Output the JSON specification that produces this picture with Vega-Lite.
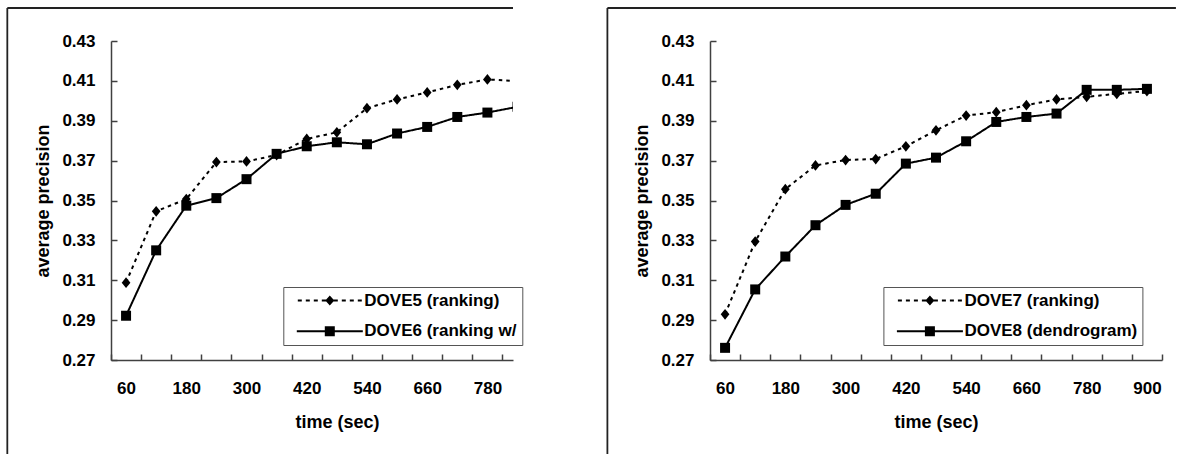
{
  "$schema": "https://vega.github.io/schema/vega-lite/v6.json",
  "padding": {"left": 6, "top": 7, "right": 0, "bottom": 0},
  "background": "white",
  "spacing": 83,
  "align": "each",
  "config": {
    "view": {"stroke": null},
    "font": "Liberation Sans",
    "axis": {
      "domainColor": "#404040", "domainWidth": 1.5,
      "tickColor": "#404040", "tickWidth": 1.5, "tickSize": -6, "tickCount": 40,
      "grid": false,
      "labelFont": "Liberation Sans", "labelFontSize": 17, "labelFontWeight": "bold", "labelColor": "black",
      "titleFont": "Liberation Sans", "titleFontSize": 18, "titleFontWeight": "bold", "titleColor": "black",
      "labelOverlap": false, "labelFlush": false, "labelBound": false
    },
    "axisX": {"labelPadding": 26, "labelOffset": 15.06, "titleX": 226, "titleY": 62, "titleBaseline": "middle", "titleAlign": "center"},
    "axisY": {"labelPadding": 22, "titleX": -68, "titleY": 159.5, "titleAngle": -90, "titleBaseline": "middle", "titleAlign": "center"},
    "legend": {
      "title": null, "orient": "none", "direction": "vertical",
      "strokeColor": "#555555", "fillColor": "white", "padding": 5, "rowPadding": 12.7,
      "symbolSize": 100, "symbolOffset": 33, "labelOffset": 26, "symbolOpacity": 1,
      "labelFont": "Liberation Sans", "labelFontSize": 17, "labelFontWeight": "bold", "labelColor": "black",
      "symbolStrokeWidth": 0, "symbolFillColor": "black"
    }
  },
  "resolve": {
    "scale": {"x": "independent", "y": "independent", "shape": "independent", "strokeDash": "independent"},
    "legend": {"shape": "independent", "strokeDash": "independent"}
  },
  "hconcat": [
    {
      "width": 402,
      "height": 319,
      "layer": [
        {
          "data": {"values": [{}]},
          "mark": {"type": "rule", "stroke": "#222222", "strokeWidth": 1.8},
          "encoding": {
            "x": {"datum": -176.6, "type": "quantitative", "scale": {"domain": [30, 831], "nice": false, "zero": false}},
            "y": {"datum": 0.44655, "type": "quantitative", "scale": {"domain": [0.27, 0.43], "nice": false, "zero": false}},
            "y2": {"datum": 0.22285}
          }
        },
        {
          "data": {"values": [{}]},
          "mark": {"type": "rule", "stroke": "#222222", "strokeWidth": 1.8},
          "encoding": {
            "x": {"datum": -176.6, "type": "quantitative", "scale": {"domain": [30, 831], "nice": false, "zero": false}},
            "x2": {"datum": 831},
            "y": {"datum": 0.44655, "type": "quantitative", "scale": {"domain": [0.27, 0.43], "nice": false, "zero": false}}
          }
        },
        {
          "data": {"name": "left"},
          "mark": {"type": "line", "clip": true, "stroke": "black", "strokeWidth": 2},
          "encoding": {
            "x": {"field": "time", "type": "quantitative", "scale": {"domain": [30, 831], "nice": false, "zero": false},
              "axis": {"values": [30, 90, 150, 210, 270, 330, 390, 450, 510, 570, 630, 690, 750, 810], "tickCount": 40, "labelOverlap": false,
                "labelExpr": "(datum.value + 30) % 120 == 60 ? '' + (datum.value + 30) : ''", "title": "time (sec)"}},
            "y": {"field": "precision", "type": "quantitative", "scale": {"domain": [0.27, 0.43], "nice": false, "zero": false},
              "axis": {"values": [0.27, 0.29, 0.31, 0.33, 0.35, 0.37, 0.39, 0.41, 0.43], "tickCount": 40, "format": ".2f", "labelOverlap": false, "title": "average precision"}},
            "detail": {"field": "series", "type": "nominal"},
            "strokeDash": {"field": "series", "type": "nominal",
              "scale": {"domain": ["DOVE5 (ranking)", "DOVE6 (ranking w/"], "range": [[3.5, 4], [1, 0]]},
              "legend": {"legendX": 172.3, "legendY": 246, "labelLimit": 0}}
          }
        },
        {
          "data": {"name": "left"},
          "transform": [{"filter": "datum.series == 'DOVE5 (ranking)'"}],
          "mark": {"type": "point", "clip": true, "filled": true, "fill": "black", "opacity": 1, "strokeWidth": 0, "size": 105, "shape": "M-0.85,0L0,-1.05L0.85,0L0,1.05Z"},
          "encoding": {
            "x": {"field": "time", "type": "quantitative", "scale": {"domain": [30, 831], "nice": false, "zero": false}},
            "y": {"field": "precision", "type": "quantitative", "scale": {"domain": [0.27, 0.43], "nice": false, "zero": false}}
          }
        },
        {
          "data": {"name": "left"},
          "transform": [{"filter": "datum.series != 'DOVE5 (ranking)'"}],
          "mark": {"type": "point", "clip": true, "filled": true, "fill": "black", "opacity": 1, "strokeWidth": 0, "size": 100, "shape": "square"},
          "encoding": {
            "x": {"field": "time", "type": "quantitative", "scale": {"domain": [30, 831], "nice": false, "zero": false}},
            "y": {"field": "precision", "type": "quantitative", "scale": {"domain": [0.27, 0.43], "nice": false, "zero": false}}
          }
        },
        {
          "data": {"name": "left"},
          "transform": [{"filter": "false"}],
          "mark": {"type": "point", "filled": true, "fill": "black", "opacity": 1},
          "encoding": {
            "x": {"field": "time", "type": "quantitative", "scale": {"domain": [30, 831], "nice": false, "zero": false}},
            "y": {"field": "precision", "type": "quantitative", "scale": {"domain": [0.27, 0.43], "nice": false, "zero": false}},
            "shape": {"field": "series", "type": "nominal",
              "scale": {"domain": ["DOVE5 (ranking)", "DOVE6 (ranking w/"], "range": [
                "M-6.4,-0.2L-5.6,-0.2L-5.6,0.2L-6.4,0.2ZM-4.8,-0.2L-4,-0.2L-4,0.2L-4.8,0.2ZM-3.2,-0.2L-2.4,-0.2L-2.4,0.2L-3.2,0.2ZM-1.6,-0.2L1.6,-0.2L1.6,0.2L-1.6,0.2ZM2.4,-0.2L3.2,-0.2L3.2,0.2L2.4,0.2ZM4,-0.2L4.8,-0.2L4.8,0.2L4,0.2ZM5.6,-0.2L6.4,-0.2L6.4,0.2L5.6,0.2ZM-0.9,0L0,-1L0.9,0L0,1Z",
                "M-6.6,-0.2L6.6,-0.2L6.6,0.2L-6.6,0.2ZM-1,-1L1,-1L1,1L-1,1Z"]},
              "legend": {"legendX": 172.3, "legendY": 246, "labelLimit": 0}}
          }
        }
      ]
    },
    {
      "width": 452,
      "height": 319,
      "layer": [
        {
          "data": {"values": [{}]},
          "mark": {"type": "rule", "stroke": "#222222", "strokeWidth": 1.8},
          "encoding": {
            "x": {"datum": -174.3, "type": "quantitative", "scale": {"domain": [30, 930], "nice": false, "zero": false}},
            "y": {"datum": 0.44655, "type": "quantitative", "scale": {"domain": [0.27, 0.43], "nice": false, "zero": false}},
            "y2": {"datum": 0.22285}
          }
        },
        {
          "data": {"values": [{}]},
          "mark": {"type": "rule", "stroke": "#222222", "strokeWidth": 1.8},
          "encoding": {
            "x": {"datum": -174.3, "type": "quantitative", "scale": {"domain": [30, 930], "nice": false, "zero": false}},
            "x2": {"datum": 957.7},
            "y": {"datum": 0.44655, "type": "quantitative", "scale": {"domain": [0.27, 0.43], "nice": false, "zero": false}}
          }
        },
        {
          "data": {"name": "right"},
          "mark": {"type": "line", "clip": true, "stroke": "black", "strokeWidth": 2},
          "encoding": {
            "x": {"field": "time", "type": "quantitative", "scale": {"domain": [30, 930], "nice": false, "zero": false},
              "axis": {"values": [30, 90, 150, 210, 270, 330, 390, 450, 510, 570, 630, 690, 750, 810, 870, 930], "tickCount": 40, "labelOverlap": false,
                "labelExpr": "(datum.value + 30) % 120 == 60 ? '' + (datum.value + 30) : ''", "title": "time (sec)"}},
            "y": {"field": "precision", "type": "quantitative", "scale": {"domain": [0.27, 0.43], "nice": false, "zero": false},
              "axis": {"values": [0.27, 0.29, 0.31, 0.33, 0.35, 0.37, 0.39, 0.41, 0.43], "tickCount": 40, "format": ".2f", "labelOverlap": false, "title": "average precision"}},
            "detail": {"field": "series", "type": "nominal"},
            "strokeDash": {"field": "series", "type": "nominal",
              "scale": {"domain": ["DOVE7 (ranking)", "DOVE8 (dendrogram)"], "range": [[3.5, 4], [1, 0]]},
              "legend": {"legendX": 173.4, "legendY": 246, "labelLimit": 0}}
          }
        },
        {
          "data": {"name": "right"},
          "transform": [{"filter": "datum.series == 'DOVE7 (ranking)'"}],
          "mark": {"type": "point", "clip": true, "filled": true, "fill": "black", "opacity": 1, "strokeWidth": 0, "size": 105, "shape": "M-0.85,0L0,-1.05L0.85,0L0,1.05Z"},
          "encoding": {
            "x": {"field": "time", "type": "quantitative", "scale": {"domain": [30, 930], "nice": false, "zero": false}},
            "y": {"field": "precision", "type": "quantitative", "scale": {"domain": [0.27, 0.43], "nice": false, "zero": false}}
          }
        },
        {
          "data": {"name": "right"},
          "transform": [{"filter": "datum.series != 'DOVE7 (ranking)'"}],
          "mark": {"type": "point", "clip": true, "filled": true, "fill": "black", "opacity": 1, "strokeWidth": 0, "size": 100, "shape": "square"},
          "encoding": {
            "x": {"field": "time", "type": "quantitative", "scale": {"domain": [30, 930], "nice": false, "zero": false}},
            "y": {"field": "precision", "type": "quantitative", "scale": {"domain": [0.27, 0.43], "nice": false, "zero": false}}
          }
        },
        {
          "data": {"name": "right"},
          "transform": [{"filter": "false"}],
          "mark": {"type": "point", "filled": true, "fill": "black", "opacity": 1},
          "encoding": {
            "x": {"field": "time", "type": "quantitative", "scale": {"domain": [30, 930], "nice": false, "zero": false}},
            "y": {"field": "precision", "type": "quantitative", "scale": {"domain": [0.27, 0.43], "nice": false, "zero": false}},
            "shape": {"field": "series", "type": "nominal",
              "scale": {"domain": ["DOVE7 (ranking)", "DOVE8 (dendrogram)"], "range": [
                "M-6.4,-0.2L-5.6,-0.2L-5.6,0.2L-6.4,0.2ZM-4.8,-0.2L-4,-0.2L-4,0.2L-4.8,0.2ZM-3.2,-0.2L-2.4,-0.2L-2.4,0.2L-3.2,0.2ZM-1.6,-0.2L1.6,-0.2L1.6,0.2L-1.6,0.2ZM2.4,-0.2L3.2,-0.2L3.2,0.2L2.4,0.2ZM4,-0.2L4.8,-0.2L4.8,0.2L4,0.2ZM5.6,-0.2L6.4,-0.2L6.4,0.2L5.6,0.2ZM-0.9,0L0,-1L0.9,0L0,1Z",
                "M-6.6,-0.2L6.6,-0.2L6.6,0.2L-6.6,0.2ZM-1,-1L1,-1L1,1L-1,1Z"]},
              "legend": {"legendX": 173.4, "legendY": 246, "labelLimit": 0}}
          }
        }
      ]
    }
  ],
  "datasets": {
    "left": [
      {"series": "DOVE5 (ranking)", "time": 60, "precision": 0.3088},
      {"series": "DOVE5 (ranking)", "time": 120, "precision": 0.3446},
      {"series": "DOVE5 (ranking)", "time": 180, "precision": 0.3507},
      {"series": "DOVE5 (ranking)", "time": 240, "precision": 0.3693},
      {"series": "DOVE5 (ranking)", "time": 300, "precision": 0.3696},
      {"series": "DOVE5 (ranking)", "time": 360, "precision": 0.3728},
      {"series": "DOVE5 (ranking)", "time": 420, "precision": 0.3809},
      {"series": "DOVE5 (ranking)", "time": 480, "precision": 0.3842},
      {"series": "DOVE5 (ranking)", "time": 540, "precision": 0.3963},
      {"series": "DOVE5 (ranking)", "time": 600, "precision": 0.4007},
      {"series": "DOVE5 (ranking)", "time": 660, "precision": 0.4042},
      {"series": "DOVE5 (ranking)", "time": 720, "precision": 0.4080},
      {"series": "DOVE5 (ranking)", "time": 780, "precision": 0.4107},
      {"series": "DOVE5 (ranking)", "time": 840, "precision": 0.4099},
      {"series": "DOVE6 (ranking w/", "time": 60, "precision": 0.2922},
      {"series": "DOVE6 (ranking w/", "time": 120, "precision": 0.3250},
      {"series": "DOVE6 (ranking w/", "time": 180, "precision": 0.3474},
      {"series": "DOVE6 (ranking w/", "time": 240, "precision": 0.3512},
      {"series": "DOVE6 (ranking w/", "time": 300, "precision": 0.3607},
      {"series": "DOVE6 (ranking w/", "time": 360, "precision": 0.3734},
      {"series": "DOVE6 (ranking w/", "time": 420, "precision": 0.3772},
      {"series": "DOVE6 (ranking w/", "time": 480, "precision": 0.3792},
      {"series": "DOVE6 (ranking w/", "time": 540, "precision": 0.3782},
      {"series": "DOVE6 (ranking w/", "time": 600, "precision": 0.3836},
      {"series": "DOVE6 (ranking w/", "time": 660, "precision": 0.3869},
      {"series": "DOVE6 (ranking w/", "time": 720, "precision": 0.3919},
      {"series": "DOVE6 (ranking w/", "time": 780, "precision": 0.3941},
      {"series": "DOVE6 (ranking w/", "time": 840, "precision": 0.3970}
    ],
    "right": [
      {"series": "DOVE7 (ranking)", "time": 60, "precision": 0.2929},
      {"series": "DOVE7 (ranking)", "time": 120, "precision": 0.3294},
      {"series": "DOVE7 (ranking)", "time": 180, "precision": 0.3557},
      {"series": "DOVE7 (ranking)", "time": 240, "precision": 0.3676},
      {"series": "DOVE7 (ranking)", "time": 300, "precision": 0.3703},
      {"series": "DOVE7 (ranking)", "time": 360, "precision": 0.3708},
      {"series": "DOVE7 (ranking)", "time": 420, "precision": 0.3772},
      {"series": "DOVE7 (ranking)", "time": 480, "precision": 0.3852},
      {"series": "DOVE7 (ranking)", "time": 540, "precision": 0.3926},
      {"series": "DOVE7 (ranking)", "time": 600, "precision": 0.3943},
      {"series": "DOVE7 (ranking)", "time": 660, "precision": 0.3978},
      {"series": "DOVE7 (ranking)", "time": 720, "precision": 0.4007},
      {"series": "DOVE7 (ranking)", "time": 780, "precision": 0.4020},
      {"series": "DOVE7 (ranking)", "time": 840, "precision": 0.4035},
      {"series": "DOVE7 (ranking)", "time": 900, "precision": 0.4049},
      {"series": "DOVE8 (dendrogram)", "time": 60, "precision": 0.2761},
      {"series": "DOVE8 (dendrogram)", "time": 120, "precision": 0.3054},
      {"series": "DOVE8 (dendrogram)", "time": 180, "precision": 0.3219},
      {"series": "DOVE8 (dendrogram)", "time": 240, "precision": 0.3376},
      {"series": "DOVE8 (dendrogram)", "time": 300, "precision": 0.3478},
      {"series": "DOVE8 (dendrogram)", "time": 360, "precision": 0.3534},
      {"series": "DOVE8 (dendrogram)", "time": 420, "precision": 0.3685},
      {"series": "DOVE8 (dendrogram)", "time": 480, "precision": 0.3715},
      {"series": "DOVE8 (dendrogram)", "time": 540, "precision": 0.3797},
      {"series": "DOVE8 (dendrogram)", "time": 600, "precision": 0.3894},
      {"series": "DOVE8 (dendrogram)", "time": 660, "precision": 0.3919},
      {"series": "DOVE8 (dendrogram)", "time": 720, "precision": 0.3936},
      {"series": "DOVE8 (dendrogram)", "time": 780, "precision": 0.4055},
      {"series": "DOVE8 (dendrogram)", "time": 840, "precision": 0.4055},
      {"series": "DOVE8 (dendrogram)", "time": 900, "precision": 0.4060}
    ]
  }
}
